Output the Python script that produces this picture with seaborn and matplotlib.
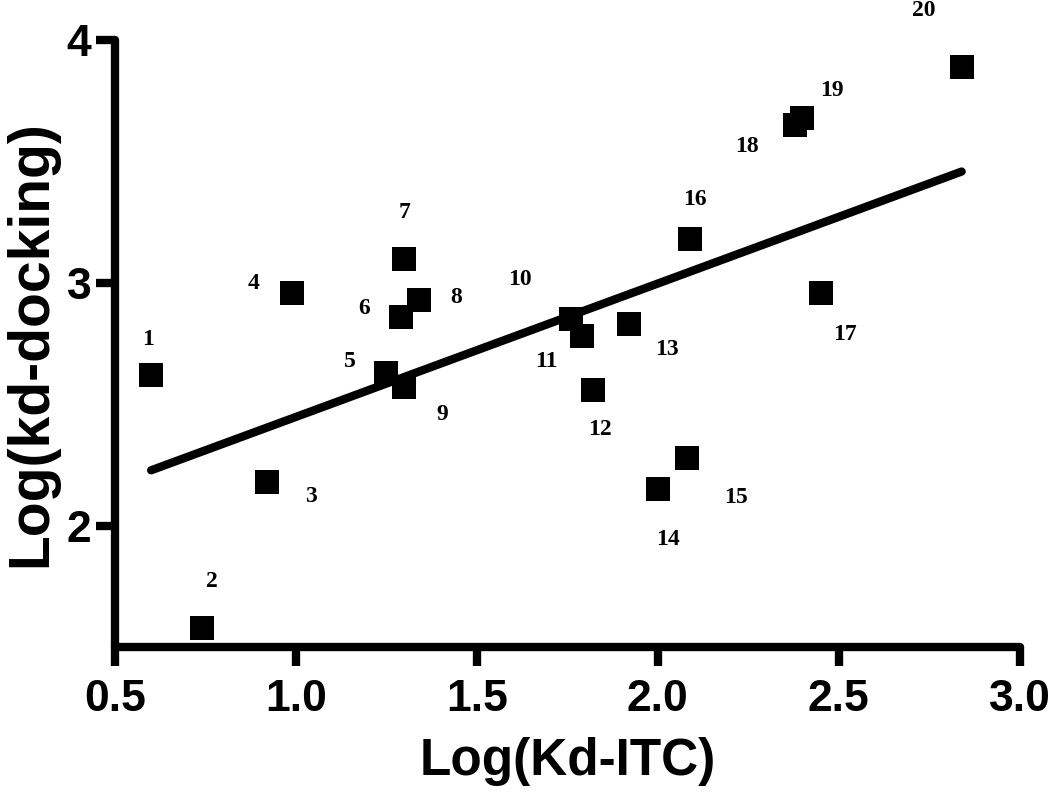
import matplotlib
matplotlib.use("Agg")
import matplotlib.pyplot as plt
import seaborn as sns
import pandas as pd

# values
compound = [str(i) for i in range(1, 21)]
log_kd_itc = [0.60, 0.74, 0.92, 0.99, 1.25, 1.29, 1.30, 1.34, 1.30, 1.76,
              1.79, 1.82, 1.92, 2.00, 2.08, 2.09, 2.45, 2.38, 2.40, 2.84]
log_kd_docking = [2.62, 1.58, 2.18, 2.96, 2.63, 2.86, 3.10, 2.93, 2.57, 2.85,
                  2.78, 2.56, 2.83, 2.15, 2.28, 3.18, 2.96, 3.65, 3.68, 3.89]

x_ticks = [0.5, 1.0, 1.5, 2.0, 2.5, 3.0]
y_ticks = [2, 3, 4]

# where each number sits relative to its square (pixels)
label_offsets = [(-3, 36), (10, 46), (44, -15), (-39, 9), (-36, 11), (-37, 8),
                 (0, 46), (37, 2), (38, -27), (-51, 40), (-35, -25), (7, -40),
                 (38, -25), (10, -50), (49, -40), (5, 40), (24, -42), (-48, -21),
                 (29, 27), (-38, 56)]

df = pd.DataFrame({"compound": compound, "itc": log_kd_itc, "docking": log_kd_docking})

sns.set_style("ticks", {"axes.edgecolor": "black", "text.color": "black",
                        "xtick.color": "black", "ytick.color": "black",
                        "axes.labelcolor": "black"})
plt.rcParams['font.family'] = ['Liberation Sans', 'DejaVu Sans']

fig = plt.figure(figsize=(10.5, 7.93), dpi=100)
ax = fig.add_axes([0.1095, 0.184, 0.8615, 0.7655])

lw = 6
sns.regplot(data=df, x="itc", y="docking", ci=None, scatter=False, ax=ax,
            line_kws={"color": "black", "linewidth": lw, "solid_capstyle": "round"})
sns.scatterplot(data=df, x="itc", y="docking", marker="s", s=300, color="black",
                linewidth=0, ax=ax, zorder=3)

for name, xv, yv, off in zip(compound, log_kd_itc, log_kd_docking, label_offsets):
    ax.annotate(name, (xv, yv), xytext=off, textcoords="offset pixels",
                ha="center", va="center", fontsize=17, fontweight="bold",
                color="black", family=["Liberation Serif", "DejaVu Serif"])

ax.set_xlim(0.5, 3.0)
ax.set_ylim(1.5, 4.0)
ax.set_xticks(x_ticks)
ax.set_xticklabels([f"{v:.1f}" for v in x_ticks])
ax.set_yticks(y_ticks)
ax.set_yticklabels([str(v) for v in y_ticks])

sns.despine(ax=ax)
for side in ["left", "bottom"]:
    ax.spines[side].set_linewidth(lw)
    ax.spines[side].set_color("black")
    ax.spines[side].set_capstyle("round")
ax.tick_params(axis="both", direction="out", width=lw, length=14, color="black",
               labelcolor="black")
ax.tick_params(axis="x", pad=9)
ax.tick_params(axis="y", pad=3)
for lab in ax.get_xticklabels() + ax.get_yticklabels():
    lab.set_fontsize(32)
    lab.set_fontweight("bold")

ax.set_xlabel("Log(Kd-ITC)", fontsize=37, fontweight="bold", labelpad=12,
              color="black")
ax.set_ylabel("Log(kd-docking)", fontsize=41, fontweight="bold", labelpad=6,
              color="black")

fig.savefig("out.png", dpi=100)
